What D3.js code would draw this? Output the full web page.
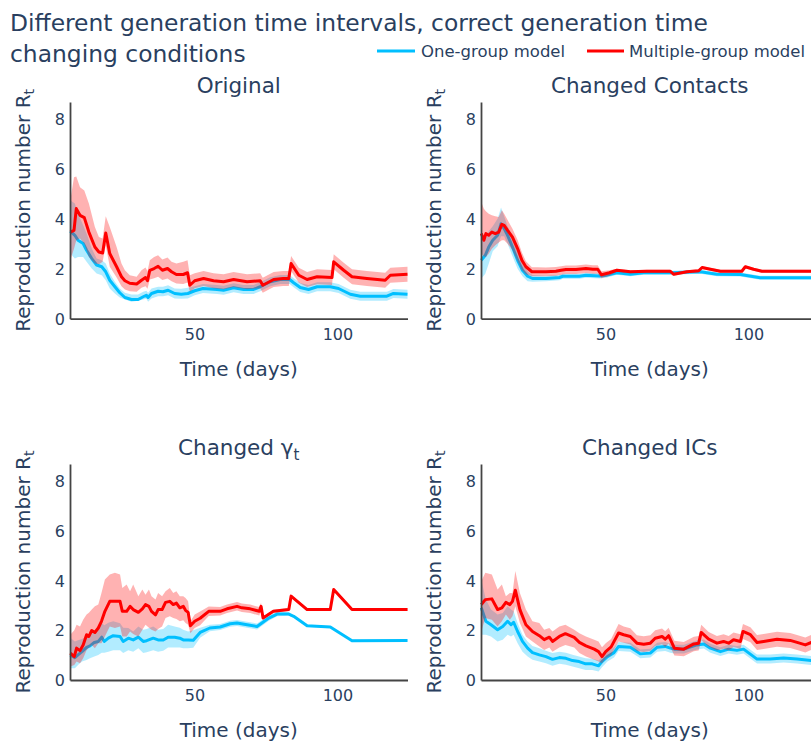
<!DOCTYPE html>
<html><head><meta charset="utf-8">
<script src="https://cdn.jsdelivr.net/npm/d3@7"></script>
<style>html,body{margin:0;padding:0;background:#fff;} svg{display:block;}</style>
</head><body><svg id="chart" width="811" height="742"></svg>
<script>
// ---------------- DATA ----------------
const titleLines = ["Different generation time intervals, correct generation time", "changing conditions"];
const seriesNames = ["One-group model", "Multiple-group model"];
const xTicks = [50, 100];
const yTicks = [0, 2, 4, 6, 8];
const xDomain = [6.5, 124.5];
const yDomain = [0, 8.68];

// Original
const origRedDays = [6.6,7.9,8.7,10,11.5,13.1,15.2,16.6,17.9,19,20.4,22.8,24.5,25.7,27.4,29.8,31.5,32.9,33.6,34.4,35.9,37.3,38.8,40.6,42,43.7,46.1,47.6,48.4,50.1,53.2,56.7,60.2,63.7,68.4,73,73.9,77.7,81,83,83.8,86.5,89.4,92.9,98.1,98.7,102.2,105.1,110.3,116.7,118.5,124.5];
const origRedMean = [3.47,3.54,4.41,4.14,4.05,3.47,2.87,2.67,2.63,3.43,2.61,2.08,1.68,1.52,1.42,1.39,1.54,1.65,1.52,1.94,2.01,2.10,1.94,2.01,1.88,1.77,1.77,1.84,1.34,1.52,1.61,1.52,1.48,1.57,1.48,1.52,1.34,1.57,1.61,1.61,2.21,1.74,1.57,1.68,1.65,2.28,1.94,1.68,1.61,1.54,1.74,1.78];
const origRedHi = [4.74,5.67,5.7,5.27,5.14,4.61,3.67,3.27,3.21,4.1,3.67,2.87,2.21,1.94,1.74,1.68,1.94,2.05,1.9,2.34,2.47,2.54,2.37,2.45,2.28,2.21,2.28,2.34,1.74,1.82,1.91,1.82,1.78,1.87,1.78,1.82,1.64,1.87,1.91,1.91,2.51,2.04,1.87,1.98,1.95,2.58,2.24,1.98,1.91,1.84,2.04,2.08];
const origRedLo = [2.34,2.8,3.14,3.21,3.0,2.47,2.21,2.18,2.28,2.94,2.08,1.65,1.3,1.17,1.1,1.08,1.24,1.3,1.2,1.57,1.62,1.68,1.55,1.61,1.5,1.41,1.39,1.45,1.08,1.22,1.31,1.22,1.18,1.27,1.18,1.22,1.04,1.27,1.31,1.31,1.91,1.44,1.27,1.38,1.35,1.98,1.64,1.38,1.31,1.24,1.44,1.48];
const origBlueDays = [6.6,8.2,9.3,11.1,12.3,14.1,15.8,17.6,19,20.4,22.2,23.9,25.7,28,30.3,32.1,33.2,33.8,35,37.3,39,40.8,43.1,45.4,47.7,50.1,53,57.9,60.2,63.7,67.2,70.7,73,76.5,80,83.3,84.7,87,89.9,92.9,97.5,100.4,104.5,108,112.6,117.3,119.6,124.5];
const origBlueMean = [3.51,3.34,3.14,3.01,2.74,2.41,2.15,2.08,1.88,1.54,1.28,1.04,0.85,0.77,0.77,0.88,0.94,0.85,1.01,1.1,1.08,1.14,1.01,0.98,1.01,1.12,1.21,1.17,1.14,1.24,1.17,1.17,1.28,1.48,1.57,1.57,1.44,1.25,1.17,1.28,1.28,1.21,0.98,0.9,0.9,0.9,1.01,0.98];
const origBlueHi = [4.74,4.61,4.21,3.74,3.41,2.81,2.41,2.34,2.21,1.81,1.48,1.21,1.04,0.97,0.97,1.08,1.12,1.04,1.21,1.28,1.28,1.34,1.21,1.2,1.24,1.3,1.39,1.35,1.32,1.42,1.35,1.35,1.46,1.66,1.75,1.75,1.62,1.43,1.35,1.46,1.46,1.39,1.16,1.08,1.08,1.08,1.19,1.16];
const origBlueLo = [2.61,2.41,2.47,2.47,2.28,2.01,1.81,1.74,1.54,1.21,1.01,0.85,0.77,0.68,0.72,0.77,0.8,0.68,0.81,0.9,0.9,0.94,0.81,0.8,0.81,0.94,1.03,0.99,0.96,1.06,0.99,0.99,1.1,1.3,1.39,1.39,1.26,1.07,0.99,1.1,1.1,1.03,0.8,0.72,0.72,0.72,0.83,0.8];

// Changed Contacts
const contRedDays = [6.6,7.5,8.2,9.2,10.3,11.5,12.7,13.8,14.6,15.8,17.5,19.3,20.8,22.2,24.3,26.3,29.2,32.7,34.5,36.2,39.7,43.2,45.6,47.3,48.6,51.4,54,58.7,64.5,69.2,72.7,73.9,78.5,82.6,83.8,86.7,90.2,97.7,98.9,101.8,104.7,124.5];
const contRedMean = [3.41,3.14,3.41,3.34,3.47,3.41,3.47,3.78,3.74,3.54,3.27,2.81,2.34,2.08,1.88,1.88,1.88,1.90,1.94,1.97,1.97,2.01,1.98,1.98,1.76,1.84,1.94,1.88,1.90,1.90,1.90,1.78,1.88,1.92,2.05,1.98,1.90,1.90,2.08,1.98,1.90,1.90];
const contRedHi = [4.67,4.4,4.3,4.2,4.14,4.1,4.07,4.34,4.2,3.95,3.6,3.15,2.65,2.3,2.06,2.06,2.05,2.07,2.1,2.13,2.13,2.17,2.14,2.14,1.9,1.94,2.0,1.94,1.96,1.96,1.96,1.84,1.94,1.98,2.11,2.04,1.96,1.96,2.14,2.04,1.96,1.96];
const contRedLo = [2.61,2.5,2.47,2.6,2.8,2.94,3.05,3.14,3.14,3.0,2.75,2.3,1.95,1.78,1.7,1.7,1.7,1.72,1.76,1.79,1.79,1.83,1.8,1.8,1.62,1.72,1.88,1.82,1.84,1.84,1.84,1.72,1.82,1.86,1.99,1.92,1.84,1.84,2.02,1.92,1.84,1.84];
const contBlueDays = [6.6,8,9.2,10.6,12.3,13.5,14.6,15.8,17.5,19.3,21,22.8,24.5,29.2,33.9,35.1,40.9,43.2,47.9,50.3,54,58.7,63.4,72.7,83.2,89,97.2,104.1,124.5];
const contBlueMean = [2.34,2.54,2.87,3.14,3.34,3.8,3.61,3.34,2.87,2.34,1.94,1.7,1.61,1.61,1.65,1.7,1.7,1.74,1.71,1.74,1.84,1.78,1.84,1.84,1.88,1.78,1.77,1.64,1.64];
const contBlueHi = [3.2,3.3,3.5,3.7,4.0,4.45,4.1,3.7,3.3,2.8,2.2,1.9,1.75,1.72,1.76,1.8,1.8,1.84,1.81,1.84,1.92,1.86,1.92,1.92,1.96,1.86,1.85,1.72,1.72];
const contBlueLo = [1.6,1.8,2.2,2.7,2.9,3.3,3.3,3.0,2.5,2.0,1.7,1.5,1.48,1.5,1.54,1.6,1.6,1.64,1.61,1.64,1.76,1.7,1.76,1.76,1.8,1.7,1.69,1.56,1.56];

// Changed gamma_t
const gamRedDays = [6.6,8,8.8,10,11.1,12.3,13.1,14.1,15.2,16.4,17.5,18.7,20.4,22.2,24,24.8,26.3,27.5,28.6,30.4,31.8,32.9,34.1,35,36.4,37.3,38.7,39.9,41.4,42.6,43.7,44.9,46.1,46.9,47.8,48.6,50.1,52,55,59,61.4,64.9,66.6,69.5,72.7,73.3,74,77.6,83,83.8,89.4,97.5,98.7,105.1,124.5];
const gamRedMean = [1.08,0.94,1.28,1.18,1.41,1.82,1.75,1.99,1.91,2.09,2.36,2.76,3.16,3.16,3.16,2.76,2.76,2.96,2.83,2.72,2.86,3.03,2.96,2.76,2.62,2.83,2.83,3.12,3.16,3.03,3.09,2.9,2.96,2.8,2.72,2.18,2.36,2.48,2.76,2.76,2.86,2.96,2.9,2.86,2.76,2.96,2.49,2.76,2.83,3.37,2.83,2.83,3.64,2.83,2.83];
const gamRedHi = [1.82,2.0,2.22,2.15,2.42,2.63,2.7,2.83,2.96,3.03,3.5,4.04,4.24,4.31,4.24,3.7,3.84,3.57,3.84,3.37,3.64,3.43,3.64,3.37,3.23,3.5,3.37,3.57,3.7,3.5,3.57,3.37,3.37,3.3,3.16,2.36,2.63,2.75,2.95,2.93,3.03,3.13,3.07,3.03,2.93,3.1,2.55,2.82,2.89,3.43,2.89,2.89,3.7,2.89,2.89];
const gamRedLo = [0.54,0.6,0.74,0.67,0.87,1.2,1.3,1.41,1.28,1.48,1.48,1.75,2.15,2.09,2.15,1.75,1.75,1.95,1.85,1.75,2.02,2.22,2.1,2.02,1.95,2.05,2.15,2.49,2.56,2.49,2.45,2.36,2.4,2.29,2.22,1.88,2.09,2.2,2.57,2.59,2.69,2.79,2.73,2.69,2.59,2.82,2.43,2.7,2.77,3.31,2.77,2.77,3.58,2.77,2.77];
const gamBlueDays = [6.6,8.2,9.3,10.7,12.3,13.5,15,16.4,17.6,18.5,19.9,21.6,24,25.1,26.9,28.6,30.4,32.1,33.3,35.6,37.3,39.1,40.8,43.1,44.9,46.1,47.8,49.6,52,55.4,59,62.5,64.9,68.4,71.9,76,78.9,83,84.7,89.4,97.5,105.1,124.5];
const gamBlueMean = [1.01,0.9,1.01,1.14,1.31,1.37,1.51,1.55,1.72,1.55,1.68,1.78,1.75,1.55,1.68,1.61,1.72,1.55,1.58,1.68,1.61,1.61,1.72,1.72,1.68,1.61,1.61,1.6,1.91,2.09,2.13,2.26,2.29,2.22,2.15,2.49,2.65,2.65,2.56,2.18,2.13,1.58,1.59];
const gamBlueHi = [1.7,1.55,1.6,1.65,1.75,1.85,2.0,2.1,2.28,2.2,2.3,2.36,2.28,2.1,2.09,1.95,2.15,2.02,2.05,2.15,2.02,2.05,2.22,2.15,2.1,2.02,1.95,2.0,2.1,2.22,2.25,2.38,2.41,2.34,2.27,2.6,2.74,2.72,2.6,2.22,2.17,1.62,1.63];
const gamBlueLo = [0.47,0.47,0.6,0.74,0.8,0.87,0.94,1.0,1.1,1.1,1.14,1.2,1.2,1.08,1.2,1.14,1.28,1.08,1.12,1.2,1.14,1.18,1.31,1.31,1.31,1.28,1.28,1.3,1.7,1.96,2.01,2.14,2.17,2.1,2.03,2.38,2.56,2.58,2.52,2.14,2.09,1.54,1.55];

// Changed ICs
const icRedDays = [6.6,8,10.3,12.3,13.8,15.2,16.6,17.5,18.5,20.1,22.2,24.5,26.9,28.6,30.4,31.5,33.9,36,39.1,40.9,43.2,46.1,47.6,48.8,50.1,52,54.6,56.4,58.7,61,63.4,65.7,67.4,69.8,70.9,72.1,74.1,77.4,80.9,82.6,83.5,86.1,89,91.3,93.1,94.8,97.2,98.1,100.7,103,105.3,110,114.6,117,119.9,122,124.5];
const icRedMean = [3.03,3.23,3.26,2.83,2.9,3.12,3.03,3.16,3.61,2.83,2.22,1.95,1.78,1.62,1.72,1.55,1.75,1.86,1.71,1.51,1.37,1.24,1.14,0.94,1.14,1.33,1.89,1.82,1.75,1.48,1.44,1.48,1.68,1.75,1.64,1.78,1.28,1.24,1.45,1.48,1.91,1.64,1.48,1.55,1.48,1.62,1.55,1.95,1.82,1.51,1.55,1.64,1.59,1.51,1.41,1.51,1.6];
const icRedHi = [3.97,4.31,4.24,3.64,3.84,3.37,3.5,3.5,4.38,3.5,2.83,2.36,2.29,2.02,2.09,1.95,2.15,2.22,2.02,1.88,1.75,1.62,1.55,1.32,1.48,1.65,2.25,2.15,2.08,1.8,1.76,1.8,2.0,2.07,1.96,2.1,1.58,1.53,1.74,1.77,2.22,1.93,1.77,1.84,1.77,1.91,1.84,2.25,2.12,1.81,1.85,1.94,1.89,1.81,1.71,1.81,1.9];
const icRedLo = [1.95,2.49,2.42,2.15,2.36,2.63,2.42,2.56,2.96,2.29,1.75,1.55,1.35,1.21,1.31,1.14,1.31,1.41,1.31,1.08,0.94,0.81,0.74,0.67,0.87,1.0,1.55,1.5,1.43,1.17,1.13,1.17,1.37,1.44,1.33,1.47,0.98,0.95,1.16,1.19,1.6,1.35,1.19,1.26,1.19,1.33,1.26,1.65,1.52,1.21,1.25,1.34,1.29,1.21,1.11,1.21,1.3];
const icBlueDays = [6.6,8.2,10,12.3,14.1,15.8,17,17.9,19.3,21,22.8,24.5,26.9,29.2,31.5,33.9,36.2,38.5,40.8,43.1,45.4,47.6,48.8,50.7,53,54.6,58.7,62.2,65.7,68.1,70.9,72.7,74.1,77.4,82,84.4,86.7,90.2,93.1,96,98.3,103,107.6,112.3,117,122,124.5];
const icBlueMean = [2.9,2.36,2.22,2.02,2.15,2.36,2.22,2.32,1.95,1.55,1.28,1.1,1.01,0.94,0.83,0.9,0.87,0.78,0.74,0.65,0.65,0.57,0.74,0.94,1.1,1.35,1.32,1.05,1.08,1.32,1.35,1.28,1.24,1.24,1.41,1.45,1.28,1.14,1.24,1.19,1.24,0.84,0.84,0.88,0.84,0.78,0.8];
const icBlueHi = [4.04,3.23,2.83,2.63,2.69,2.96,2.83,2.76,2.29,1.82,1.55,1.37,1.28,1.18,1.08,1.14,1.1,1.01,0.94,0.87,0.85,0.78,0.91,1.14,1.31,1.53,1.5,1.23,1.26,1.5,1.53,1.46,1.42,1.42,1.59,1.63,1.46,1.32,1.42,1.37,1.42,1.02,1.02,1.06,1.02,0.96,0.98];
const icBlueLo = [1.82,1.82,1.75,1.55,1.62,1.82,1.75,1.82,1.48,1.14,0.94,0.81,0.74,0.67,0.57,0.65,0.61,0.54,0.47,0.4,0.4,0.34,0.51,0.74,0.9,1.17,1.14,0.87,0.9,1.14,1.17,1.1,1.06,1.06,1.23,1.27,1.1,0.96,1.06,1.01,1.06,0.66,0.66,0.7,0.66,0.6,0.62];

// ---------------- BUILD ----------------
function mk(days, mean, lo, hi) { return days.map((d, i) => ({d, m: mean[i], lo: lo[i], hi: hi[i]})); }
const panels = [
  {title: "Original", sub: "", col: 0, row: 0,
   blue: mk(origBlueDays, origBlueMean, origBlueLo, origBlueHi), red: mk(origRedDays, origRedMean, origRedLo, origRedHi)},
  {title: "Changed Contacts", sub: "", col: 1, row: 0,
   blue: mk(contBlueDays, contBlueMean, contBlueLo, contBlueHi), red: mk(contRedDays, contRedMean, contRedLo, contRedHi)},
  {title: "Changed γ", sub: "t", col: 0, row: 1,
   blue: mk(gamBlueDays, gamBlueMean, gamBlueLo, gamBlueHi), red: mk(gamRedDays, gamRedMean, gamRedLo, gamRedHi)},
  {title: "Changed ICs", sub: "", col: 1, row: 1,
   blue: mk(icBlueDays, icBlueMean, icBlueLo, icBlueHi), red: mk(icRedDays, icRedMean, icRedLo, icRedHi)}
];

const FONT = "'DejaVu Sans', Verdana, sans-serif";
const TXT = "#2a3f5f";
const BLUE = "#00bfff", RED = "#ff0000";
const BLUE_FILL = "rgba(0,191,255,0.3)", RED_FILL = "rgba(255,0,0,0.3)";
const colX = [70, 481], plotW = 337.5;
const rowTop = [102, 464], rowBottom = [318.7, 680];

const svg = d3.select("#chart").style("font-family", FONT);
svg.append("rect").attr("width", 811).attr("height", 742).attr("fill", "#fff");

// Title
svg.append("g").selectAll("text").data(titleLines).join("text")
  .attr("x", 10).attr("y", (d, i) => 31 + i * 30.5)
  .attr("font-size", 23.4).attr("fill", TXT).text(d => d);

// Legend
const legend = [{name: seriesNames[0], color: BLUE, x0: 377, x1: 415, tx: 421},
                {name: seriesNames[1], color: RED, x0: 587, x1: 624, tx: 629}];
const lg = svg.append("g");
lg.selectAll("line").data(legend).join("line")
  .attr("x1", d => d.x0).attr("x2", d => d.x1).attr("y1", 51).attr("y2", 51)
  .attr("stroke", d => d.color).attr("stroke-width", 3);
lg.selectAll("text").data(legend).join("text")
  .attr("x", d => d.tx).attr("y", 57).attr("font-size", 16.5).attr("fill", TXT).text(d => d.name);

panels.forEach(p => {
  const x0 = colX[p.col], x1 = x0 + plotW;
  const yT = rowTop[p.row], yB = rowBottom[p.row];
  const x = d3.scaleLinear().domain(xDomain).range([x0, x1]);
  const y = d3.scaleLinear().domain(yDomain).range([yB, yT]);
  const g = svg.append("g");

  const area = d3.area().x(d => x(d.d)).y0(d => y(d.lo)).y1(d => y(d.hi));
  const line = d3.line().x(d => x(d.d)).y(d => y(d.m));
  g.append("path").attr("d", area(p.blue)).attr("fill", BLUE_FILL);
  g.append("path").attr("d", line(p.blue)).attr("fill", "none").attr("stroke", BLUE).attr("stroke-width", 3).attr("stroke-linejoin", "round");
  g.append("path").attr("d", area(p.red)).attr("fill", RED_FILL);
  g.append("path").attr("d", line(p.red)).attr("fill", "none").attr("stroke", RED).attr("stroke-width", 3).attr("stroke-linejoin", "round");

  // axes
  const xa = g.append("g").attr("transform", `translate(0,${yB})`)
    .call(d3.axisBottom(x).tickValues(xTicks).tickSize(0).tickPadding(0).tickFormat(d3.format("d")));
  xa.select(".domain").attr("stroke", "#444").attr("stroke-width", 1.8);
  xa.selectAll("text").attr("y", 21).attr("dy", 0).attr("font-size", 16).attr("fill", TXT).attr("font-family", FONT);

  const ya = g.append("g").attr("transform", `translate(${x0},0)`)
    .call(d3.axisLeft(y).tickValues(yTicks).tickSize(0).tickPadding(0).tickFormat(d3.format("d")));
  ya.select(".domain").attr("stroke", "#444").attr("stroke-width", 1.8);
  ya.selectAll("text").attr("x", -5).attr("dy", "0.35em").attr("font-size", 16).attr("fill", TXT).attr("font-family", FONT);

  // axis titles
  g.append("text").attr("x", (x0 + x1) / 2).attr("y", yB + 57).attr("text-anchor", "middle")
    .attr("font-size", 20).attr("fill", TXT).text("Time (days)");
  const yt = g.append("text").attr("transform", `translate(${x0 - 40},${(yT + yB) / 2}) rotate(-90)`)
    .attr("text-anchor", "middle").attr("font-size", 20).attr("fill", TXT);
  yt.append("tspan").text("Reproduction number R");
  yt.append("tspan").attr("font-size", 14).attr("dy", 4).text("t");

  // subplot title
  const st = g.append("text").attr("x", (x0 + x1) / 2).attr("y", yT - 9).attr("text-anchor", "middle")
    .attr("font-size", 21.5).attr("fill", TXT);
  st.append("tspan").text(p.title);
  if (p.sub) st.append("tspan").attr("font-size", 15).attr("dy", 5).text(p.sub);
});
</script></body></html>
